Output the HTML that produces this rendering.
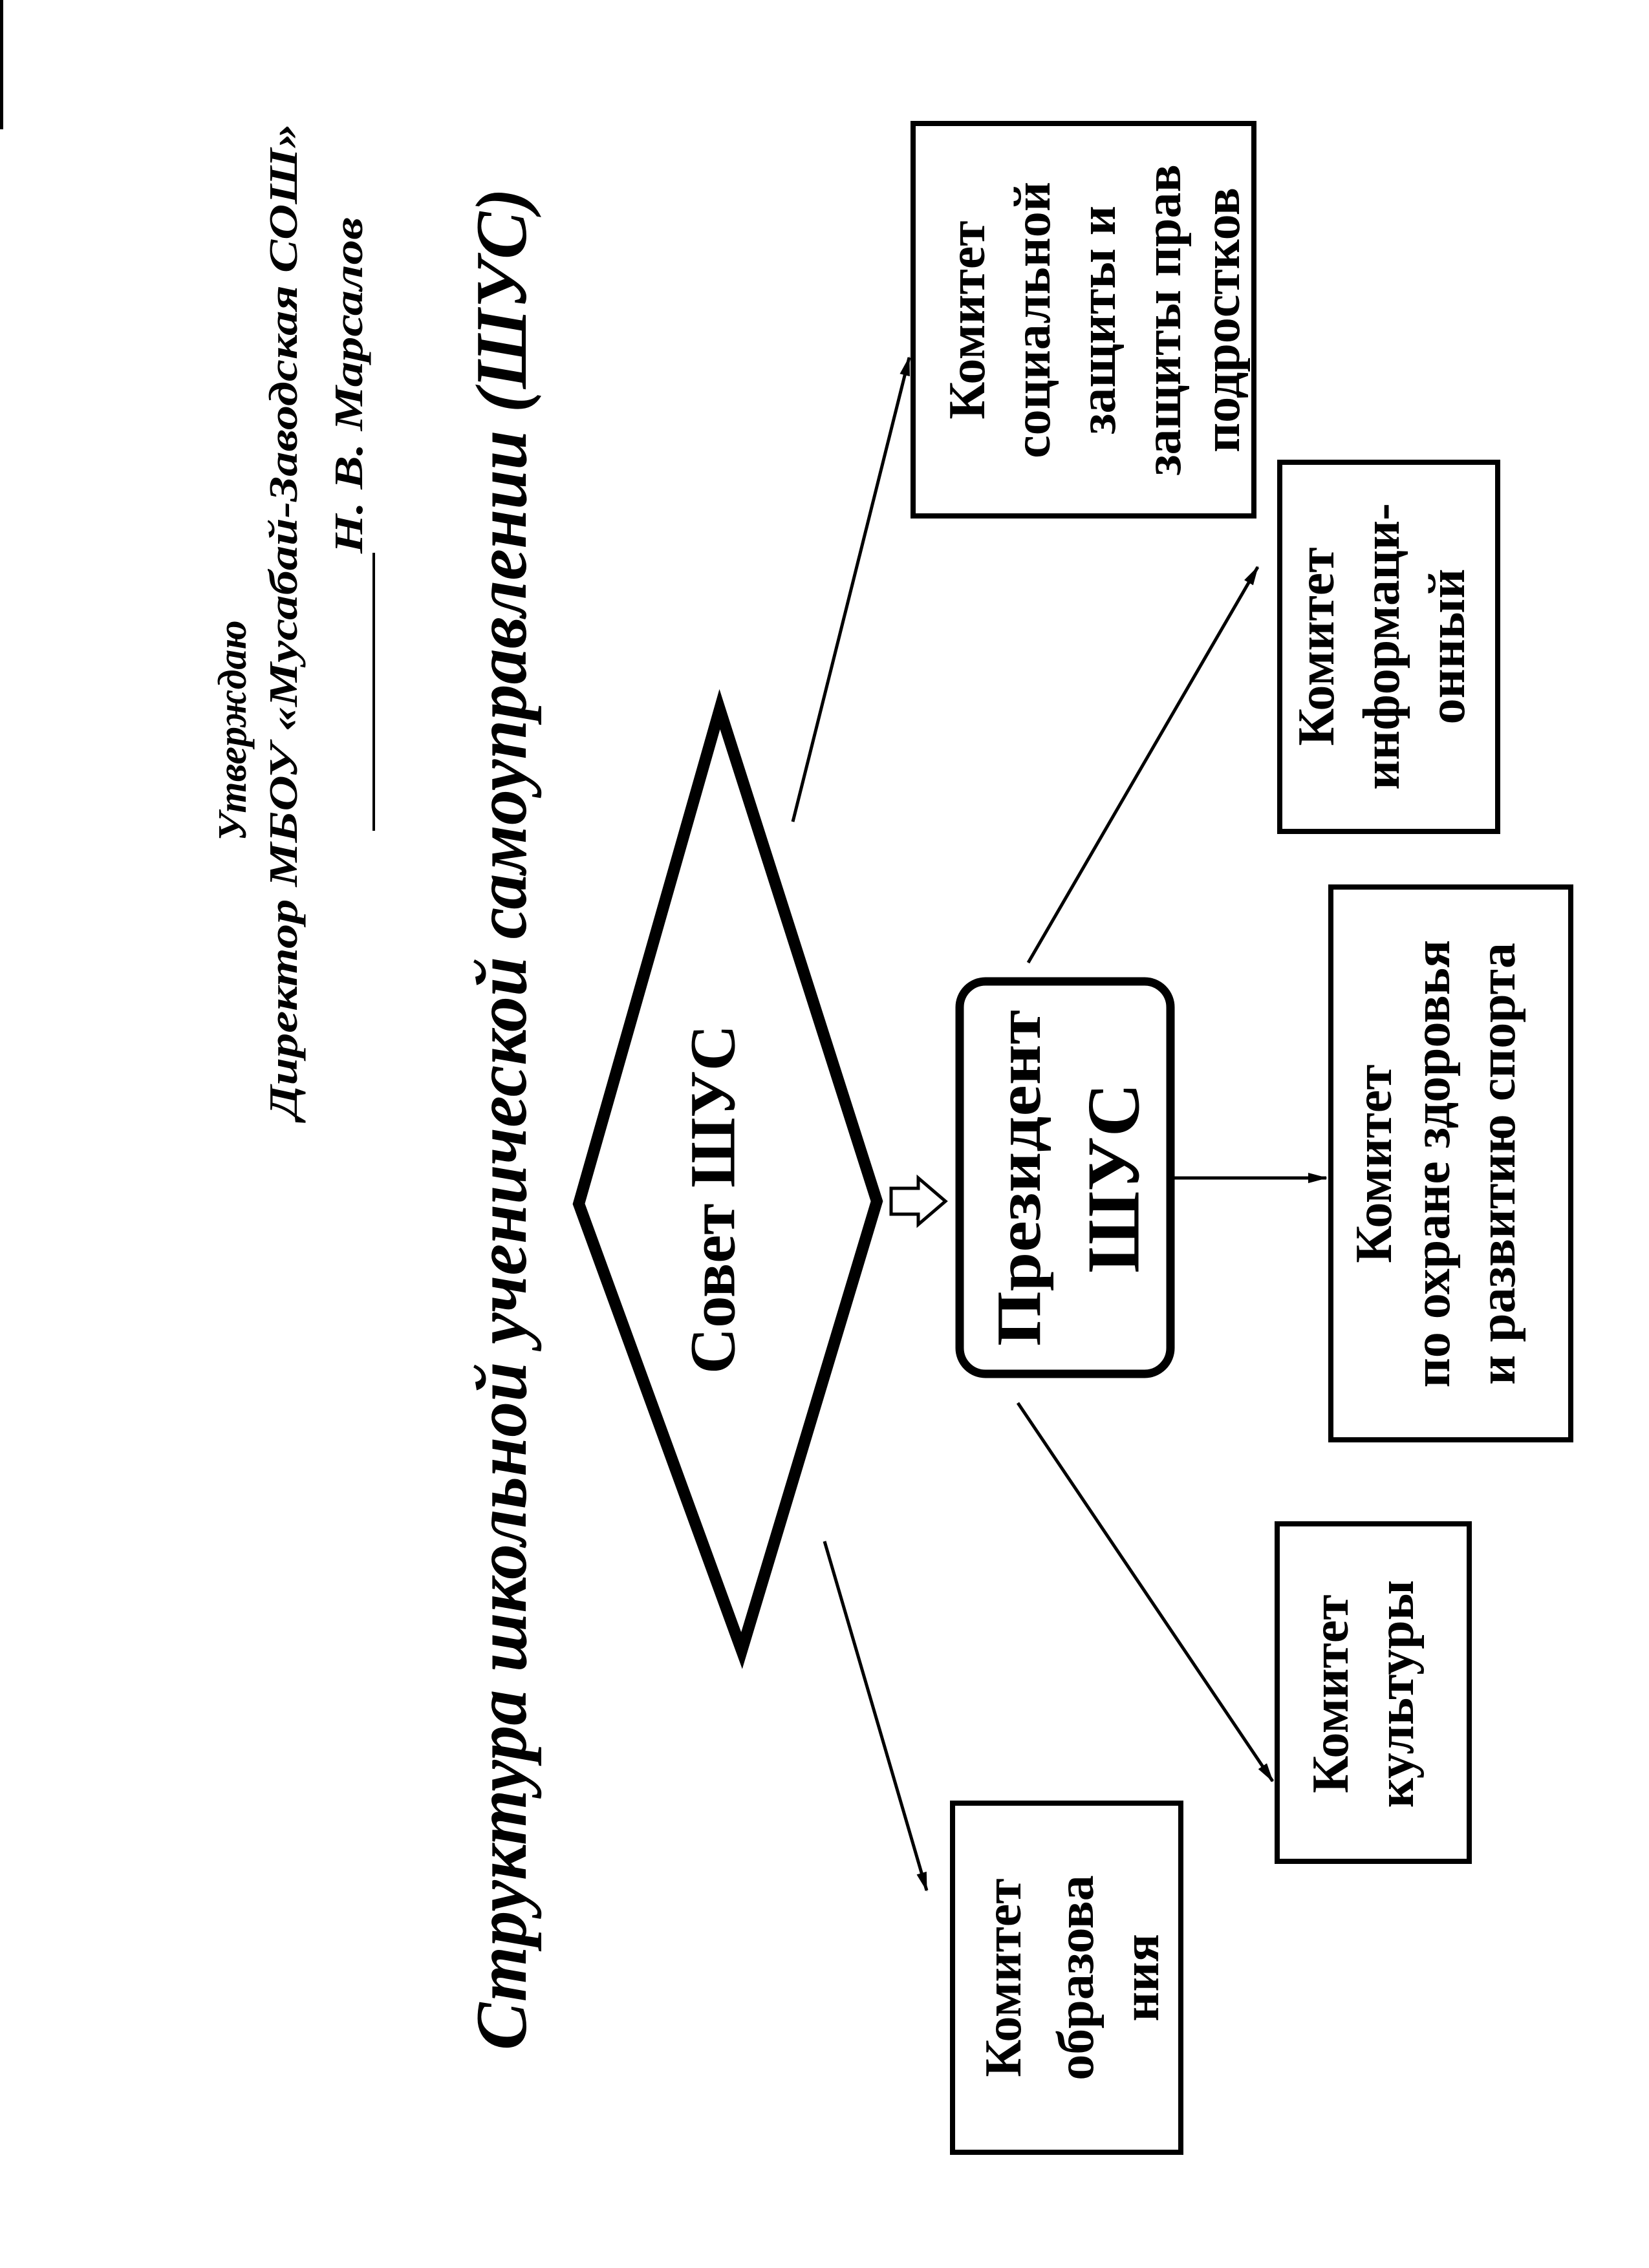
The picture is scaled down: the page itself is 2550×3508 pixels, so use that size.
<!DOCTYPE html>
<html><head><meta charset="utf-8"><style>
html,body{margin:0;padding:0;background:#fff;}
svg{display:block;}
text{font-family:"Liberation Serif",serif;fill:#000;}
</style></head><body>
<svg width="2550" height="3508" viewBox="0 0 2550 3508" xmlns="http://www.w3.org/2000/svg">
<defs>
<marker id="ah" markerWidth="10" markerHeight="8" refX="9" refY="4" orient="auto" markerUnits="userSpaceOnUse" viewBox="0 0 10 8">
</marker>
<marker id="a" viewBox="0 0 30 20" refX="28" refY="10" markerWidth="30" markerHeight="20" orient="auto" markerUnits="userSpaceOnUse">
<path d="M0,2 L30,10 L0,18 Z" fill="#000"/>
</marker>
</defs>
<rect x="0" y="0" width="2550" height="3508" fill="#fff"/>
<rect x="0" y="0" width="5" height="200" fill="#000"/>

<!-- Header -->
<g font-style="italic" font-weight="bold" font-size="62" dominant-baseline="central" text-anchor="middle">
<text x="360" y="1130" transform="rotate(-90 360 1130)">Утверждаю</text>
<text x="439" y="961" transform="rotate(-90 439 961)" textLength="1540" lengthAdjust="spacingAndGlyphs">Директор МБОУ «Мусабай-Заводская СОШ»</text>
<text x="540" y="596" transform="rotate(-90 540 596)" textLength="520" lengthAdjust="spacingAndGlyphs">Н. В. Марсалов</text>
</g>
<line x1="578" y1="855" x2="578" y2="1285" stroke="#000" stroke-width="4"/>

<!-- Title -->
<text x="776" y="1731" transform="rotate(-90 776 1731)" font-style="italic" font-weight="bold" font-size="112" dominant-baseline="central" text-anchor="middle" textLength="2880" lengthAdjust="spacingAndGlyphs">Структура школьной ученической самоуправлении (ШУС)</text>

<!-- Diamond -->
<polygon points="895,1862 1113,1097 1356,1858 1147,2553" fill="#fff" stroke="#000" stroke-width="18" stroke-linejoin="miter"/>
<text x="1102" y="1855" transform="rotate(-90 1102 1855)" font-weight="bold" font-size="100" dominant-baseline="central" text-anchor="middle" textLength="540" lengthAdjust="spacingAndGlyphs">Совет  ШУС</text>

<!-- Hollow arrow -->
<polygon points="1378,1838 1420,1838 1420,1822 1462,1858 1420,1894 1420,1878 1378,1878" fill="#fff" stroke="#000" stroke-width="5"/>

<!-- President -->
<rect x="1484" y="1518" width="326" height="607" rx="40" ry="40" fill="#fff" stroke="#000" stroke-width="13"/>
<g font-weight="bold" dominant-baseline="central" text-anchor="middle">
<text x="1576" y="1822" transform="rotate(-90 1576 1822)" font-size="98" textLength="520" lengthAdjust="spacingAndGlyphs">Президент</text>
<text x="1722" y="1822" transform="rotate(-90 1722 1822)" font-size="115">ШУС</text>
</g>

<!-- Boxes -->
<g fill="#fff" stroke="#000" stroke-width="8">
<rect x="1412" y="191" width="527" height="607"/>
<rect x="1979" y="715" width="337" height="571"/>
<rect x="2058" y="1372" width="371" height="855"/>
<rect x="1975" y="2357" width="297" height="522"/>
<rect x="1473" y="2789" width="353" height="540"/>
</g>

<g font-weight="bold" font-size="80" dominant-baseline="central" text-anchor="middle">
<text x="1496" y="495" transform="rotate(-90 1496 495)">Комитет</text>
<text x="1597" y="495" transform="rotate(-90 1597 495)">социальной</text>
<text x="1698" y="495" transform="rotate(-90 1698 495)">защиты и</text>
<text x="1799" y="495" transform="rotate(-90 1799 495)">защиты прав</text>
<text x="1890" y="495" transform="rotate(-90 1890 495)">подростков</text>

<text x="2036" y="1000" transform="rotate(-90 2036 1000)">Комитет</text>
<text x="2137" y="1000" transform="rotate(-90 2137 1000)">информаци-</text>
<text x="2238" y="1000" transform="rotate(-90 2238 1000)">онный</text>

<text x="2125" y="1800" transform="rotate(-90 2125 1800)">Комитет</text>
<text x="2215" y="1800" transform="rotate(-90 2215 1800)">по охране здоровья</text>
<text x="2316" y="1800" transform="rotate(-90 2316 1800)">и развитию спорта</text>

<text x="2058" y="2620" transform="rotate(-90 2058 2620)">Комитет</text>
<text x="2159" y="2620" transform="rotate(-90 2159 2620)">культуры</text>

<text x="1552" y="3059" transform="rotate(-90 1552 3059)">Комитет</text>
<text x="1664" y="3059" transform="rotate(-90 1664 3059)">образова</text>
<text x="1765" y="3059" transform="rotate(-90 1765 3059)">ния</text>
</g>

<!-- Connectors -->
<g stroke="#000" stroke-width="5" fill="none">
<line x1="1226" y1="1271" x2="1406" y2="553" marker-end="url(#a)"/>
<line x1="1590" y1="1489" x2="1945" y2="877" marker-end="url(#a)"/>
<line x1="1810" y1="1822" x2="2051" y2="1822" marker-end="url(#a)"/>
<line x1="1574" y1="2170" x2="1968" y2="2755" marker-end="url(#a)"/>
<line x1="1275" y1="2384" x2="1433" y2="2924" marker-end="url(#a)"/>
</g>
</svg>
</body></html>
